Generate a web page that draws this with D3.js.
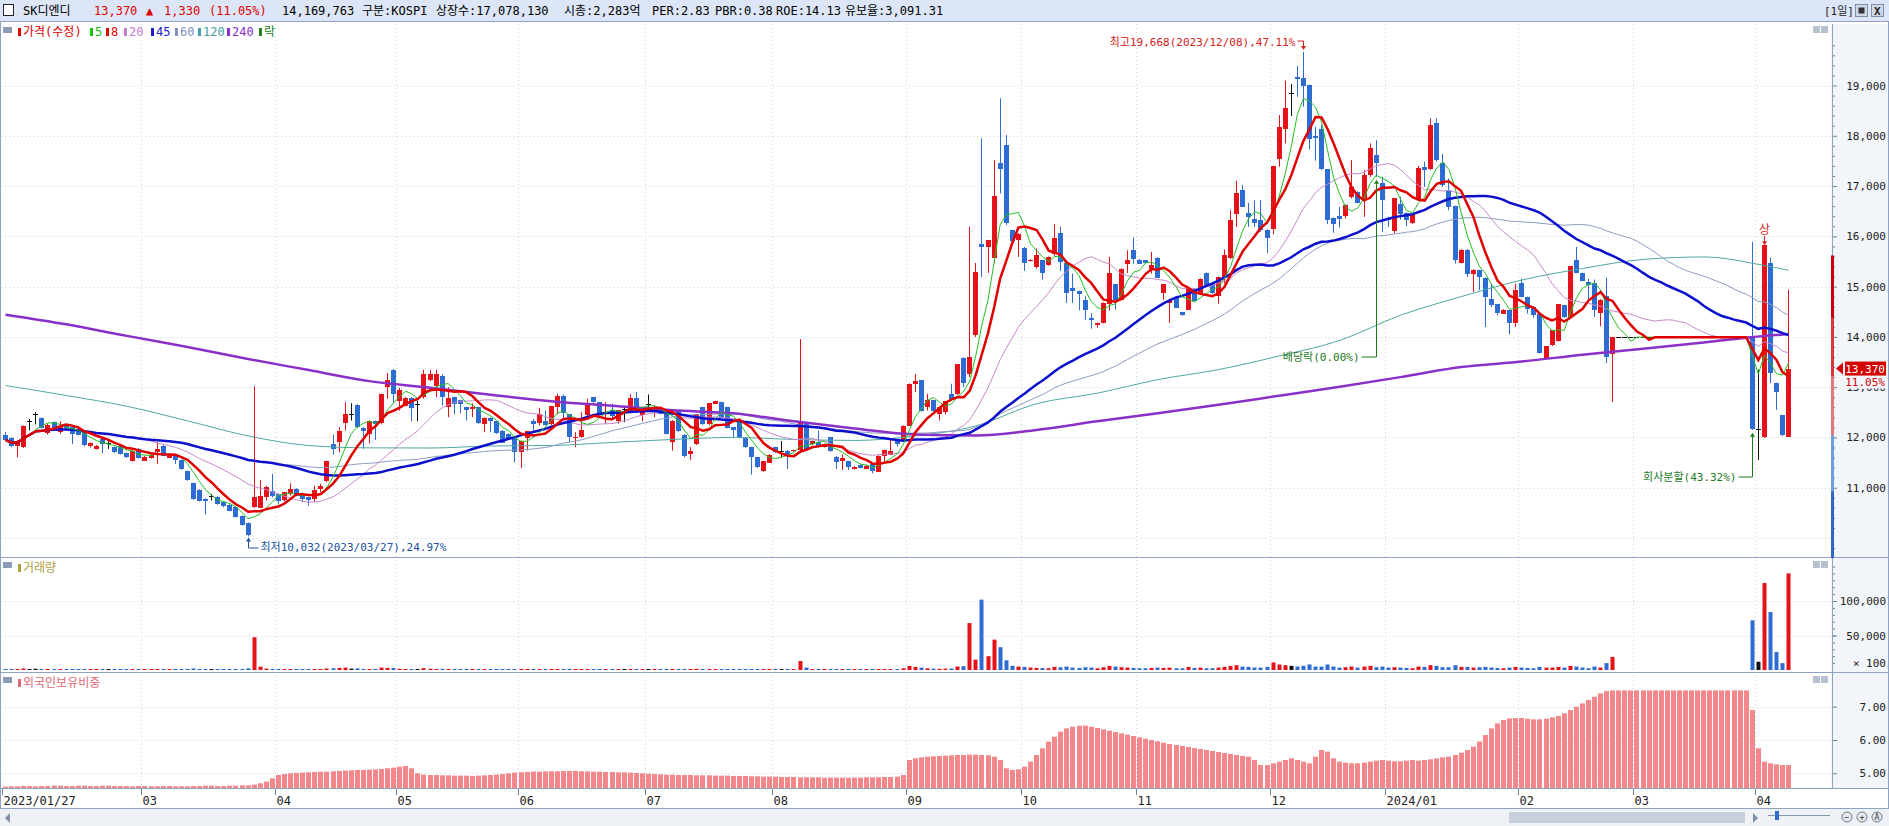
<!DOCTYPE html>
<html><head><meta charset="utf-8">
<script src="https://cdn.jsdelivr.net/npm/d3@7/dist/d3.min.js"></script>
<style>
html,body{margin:0;padding:0;background:#fff;overflow:hidden}
svg{display:block}
text{font-family:"DejaVu Sans Mono","Noto Sans CJK KR",monospace}
</style></head><body>
<svg id="chart" width="1889" height="826"></svg>
<script>
// ---------------- DATA ----------------
const openP=[12058,11992,11819,11806,12337,12470,12390,12072,12304,12105,
12218,12204,12151,12105,11819,11773,11972,11892,11806,11839,
11686,11540,11773,11540,11594,11706,11839,11607,11640,11554,
11328,11089,10956,10777,10843,10823,10710,10664,10624,10445,
10305,10611,10611,10823,10943,10876,10744,10876,10976,10876,
10810,10777,10976,11129,11872,11926,12271,12470,12649,12191,
12072,12324,12271,13001,13347,12722,12636,12789,12669,12802,
13134,13034,13214,12603,12802,12736,12603,12556,12603,12271,
12390,12324,12138,12072,11972,11706,11992,12324,12271,12337,
12258,12603,12822,12457,11992,12005,12430,12802,12702,12457,
12536,12324,12556,12536,12789,12437,12669,12570,12570,12470,
11926,12536,12058,11660,11859,12603,12258,12669,12702,12603,
12204,12337,11992,11806,11607,11328,11507,11806,11726,11740,
11726,11740,12284,11859,11906,11806,12005,11620,11527,11527,
11374,11461,11374,11474,11328,11640,11660,11939,11939,12238,
13054,13134,12603,12736,12457,12503,12855,12855,13586,13254,
14030,15856,15790,15558,17463,17815,16122,15936,15777,15511,
15378,15524,15425,15657,16069,15471,14980,14913,14741,14382,
14230,14276,14661,15046,14741,15458,15724,15538,15524,15338,
15578,14874,14675,14794,14495,14542,14960,14860,15272,15046,
14807,15192,15558,16454,16919,16467,16354,16321,16135,16135,
17550,18127,18844,19176,19143,19010,17994,18127,17330,16374,
16401,16401,16786,16886,16753,17218,17616,17052,16354,16089,
16653,16467,16255,16720,17370,17330,18247,17450,16919,16600,
15471,15737,15259,15325,15179,14761,14648,14462,14528,14276,
15073,14794,14595,14449,13566,13831,13918,14628,14382,15524,
15272,15093,15073,14475,14807,13652,13995,13995,13995,13995,
13995,13995,13995,13995,13995,13995,13995,13995,13995,13995,
13995,13995,13995,13995,13995,13995,13995,13995,13995,12170,
11992,15471,13081,12437,12018];
const highP=[12105,12000,11940,12240,12370,12503,12400,12271,12320,12324,
12240,12210,12160,12110,11900,11850,12005,11972,11820,11850,
11700,11750,11790,11630,11670,11906,11850,11670,11650,11560,
11340,11100,10970,10790,10876,10830,10720,10670,10630,10450,
10310,13014,11155,11040,11275,10890,10920,11089,10990,10910,
10820,11042,11076,11540,12058,12204,12702,12682,12660,12204,
12345,12337,12870,13280,13360,12988,12800,12800,12736,13347,
13347,13347,13254,13001,12810,12745,12610,12682,12610,12400,
12400,12330,12150,12080,11980,11940,12130,12370,12590,12536,
12630,12868,12855,12470,12105,12503,12769,12810,12710,12702,
12669,12545,12603,12855,12902,12610,12855,12636,12580,12480,
12345,12545,12065,11806,12470,12610,12690,12730,12710,12610,
12210,12345,12000,11815,11615,11535,11670,11815,11926,11750,
11760,13957,12290,11935,12138,11880,12010,11630,11660,11535,
11430,11470,11450,11480,11650,11760,11972,11945,12240,13075,
13267,13140,12868,12745,12610,12730,13068,13460,13595,16188,
15471,17948,15930,17516,18745,18014,16130,16065,15785,15545,
15757,15530,15600,16242,16188,15480,15259,14920,14807,14475,
14285,14685,15591,15055,15365,15724,15976,15545,15530,15690,
15585,15055,14750,14800,14500,14990,14970,15165,15280,15055,
15200,15737,16520,17105,17018,16666,16720,16720,16140,17405,
18413,19097,19030,19389,19668,19020,18180,18214,17340,16380,
16587,16630,17516,16895,17317,17848,17915,17184,16388,16760,
16786,16475,16450,17397,17483,18346,18346,17636,17151,16610,
15745,15745,15345,15335,15185,15060,14655,14550,14535,15060,
15159,14800,14600,14455,13820,14140,14655,14635,15412,15790,
15280,15159,15139,14750,15179,14000,13995,13995,13995,13995,
13995,13995,13995,13995,13995,13995,13995,13995,13995,13995,
13995,13995,13995,13995,13995,13995,13995,13995,15890,13346,
15823,15578,13090,12445,14940];
const lowP=[11926,11806,11607,11790,12138,12258,12180,12058,12180,12072,
12150,11872,12040,11820,11800,11760,11686,11773,11690,11660,
11590,11520,11580,11530,11580,11474,11630,11600,11474,11360,
11140,10760,10730,10465,10744,10660,10610,10530,10410,10250,
10032,10600,10598,10744,10810,10664,10730,10843,10830,10710,
10644,10710,10910,11110,11660,11706,12138,12337,12190,11773,
11886,11952,12260,12769,12682,12536,12620,12324,12324,12769,
13120,12802,12636,12404,12457,12483,12337,12404,12270,12105,
12105,12070,11890,11960,11507,11394,11740,12138,12238,12238,
12250,12457,12390,11906,11806,11992,12404,12690,12450,12271,
12370,12271,12304,12503,12483,12324,12590,12404,12460,12060,
11740,12110,11607,11554,11850,12245,12245,12660,12380,12180,
12005,11980,11790,11262,11395,11315,11495,11695,11607,11374,
11715,11730,11730,11850,11800,11800,11715,11374,11354,11354,
11365,11385,11365,11288,11315,11474,11650,11819,11930,12230,
12902,12515,12536,12515,12337,12457,12722,12845,13001,13200,
13997,15192,15272,15471,16852,16222,15900,15591,15312,15500,
15358,15139,15415,15591,15312,14675,14675,14528,14342,14163,
14183,14265,14528,14542,14730,15272,15458,15450,15460,15259,
15170,14741,14276,14575,14420,14535,14720,14850,15000,14850,
14661,15060,15550,16188,16580,16188,16188,16089,15670,16042,
17384,17848,18393,18778,18579,17729,17503,17317,16241,16069,
16175,16354,16753,16655,16388,17184,17184,16089,16188,16056,
16334,16202,16245,16710,16985,17317,17483,16985,16520,15458,
15460,15192,14894,14927,14196,14595,14429,14455,14050,14196,
14785,14462,14382,13670,13560,13820,13910,14375,14375,15265,
15105,14741,14396,14210,13479,12702,13995,13995,13995,13995,
13995,13995,13995,13995,13995,13995,13995,13995,13995,13995,
13995,13995,13995,13995,13995,13995,13995,13995,12151,11554,
11990,13081,12550,12030,12010];
const closeP=[11952,11839,11926,12218,12337,12470,12191,12238,12191,12218,
12178,12058,12058,11839,11886,11839,11872,11892,11706,11673,
11607,11740,11594,11620,11660,11773,11640,11660,11554,11374,
11155,10777,10744,10730,10843,10677,10624,10544,10425,10266,
10060,10810,10843,11022,10843,10730,10910,10976,10843,10777,
10757,10956,11042,11527,11773,12138,12457,12470,12204,12138,
12337,12258,12855,13147,12868,12935,12789,12590,12669,13267,
13254,13267,12789,12789,12656,12656,12536,12603,12284,12390,
12324,12085,11906,11972,11706,11926,12125,12271,12457,12258,
12616,12822,12483,11992,12018,12151,12656,12702,12457,12503,
12417,12536,12556,12789,12503,12603,12669,12603,12470,12072,
12337,12125,11640,11726,12457,12258,12682,12722,12390,12191,
12151,11992,11806,11607,11408,11527,11660,11706,11726,11640,
11753,12284,11740,11926,11806,11872,11726,11527,11593,11408,
11421,11395,11441,11341,11640,11753,11740,11886,12231,13068,
13121,12523,12736,12523,12603,12722,12749,13453,13081,13599,
15292,15790,15923,16799,17350,16268,15910,16056,15471,15538,
15624,15272,15591,15976,15491,14874,14913,14860,14542,14342,
14276,14675,15272,14728,15359,15538,15538,15458,15471,15425,
15179,15046,14741,14582,14429,14980,14728,15159,15006,14860,
15192,15624,16321,16866,16587,16388,16268,16122,15976,17397,
18180,18546,18844,19143,18991,17928,17948,17330,16308,16255,
16334,16620,16985,16666,17218,17749,17450,16706,16334,16753,
16454,16334,16441,17350,17317,18214,17503,17018,16587,15524,
15737,15259,15338,15179,14807,14648,14462,14542,14276,14927,
14794,14562,14429,13678,13811,14130,14648,14382,15405,15272,
15113,15026,14542,14741,13586,13995,13995,13995,13995,13995,
13995,13995,13995,13995,13995,13995,13995,13995,13995,13995,
13995,13995,13995,13995,13995,13995,13995,13995,12171,12170,
15820,13280,12902,12040,13370];
// volume (x100 shares)
const volume=[1200,900,1500,2200,1400,1800,1300,900,800,1000,
700,900,800,1200,900,700,1100,800,900,1000,
800,900,1000,700,600,1300,900,700,800,1100,
1600,2300,1500,1200,900,1000,1100,1200,1400,1600,
2500,47500,4900,2000,1500,1200,1300,1100,900,1000,
900,1300,1000,2200,2500,3000,3400,2000,2400,1500,
1500,1200,3500,3000,2800,1800,1300,1200,1000,2600,
1800,1500,1700,1200,1000,900,800,900,1300,900,
800,1000,1200,900,1400,1500,1300,1100,1200,900,
1300,1500,1200,1600,900,1000,1500,900,1000,800,
900,1000,700,1400,1300,1000,800,700,800,1300,
1400,1100,1500,1000,1800,1200,1500,900,1000,1300,
900,1200,1100,1400,1200,1000,900,800,700,900,
800,13000,3500,1200,1000,900,1100,900,800,900,
700,800,700,900,1000,900,1100,900,2500,6000,
4500,3500,2500,2000,1800,2000,2200,5000,5500,68000,
15000,102000,20000,44000,33000,14000,6000,5000,4500,3500,
3000,2800,2500,4500,4000,5000,3500,3000,4000,3500,
2500,4000,6000,5000,4000,3500,3000,2500,2500,3000,
3500,3000,3500,2500,2500,4500,3000,3500,2500,2500,
3500,4500,6000,7000,5000,4500,3500,3500,4500,11000,
8000,7000,6000,5000,6000,8000,5000,5000,8000,5000,
3500,4000,5000,3500,5000,6000,4000,5000,3500,4000,
3500,3000,2500,5000,4500,7000,6000,4000,4000,7000,
4500,4500,3500,4000,4500,3500,3000,2500,3500,4500,
3500,3000,2500,4500,3500,3500,4500,3500,6000,5000,
3500,2500,5000,3500,10000,19000,0,0,0,0,
0,0,0,0,0,0,0,0,0,0,
0,0,0,0,0,0,0,0,72000,12000,
126000,84000,26000,10000,140000];
// foreign ownership ratio (%)
const foreignPct=[4.60,4.61,4.61,4.62,4.62,4.61,4.62,4.62,4.63,4.63,
4.62,4.62,4.63,4.63,4.62,4.62,4.63,4.63,4.62,4.62,
4.62,4.61,4.62,4.62,4.61,4.61,4.62,4.62,4.61,4.61,
4.61,4.62,4.62,4.63,4.63,4.62,4.62,4.63,4.63,4.64,
4.64,4.66,4.70,4.75,4.85,4.95,4.98,5.00,5.01,5.02,
5.03,5.04,5.05,5.05,5.06,5.07,5.08,5.09,5.10,5.10,
5.11,5.12,5.13,5.15,5.17,5.20,5.22,5.15,5.00,4.96,
4.95,4.95,4.94,4.94,4.93,4.93,4.93,4.92,4.93,4.94,
4.95,4.96,4.98,5.00,5.02,5.03,5.04,5.05,5.05,5.06,
5.06,5.06,5.07,5.07,5.07,5.06,5.06,5.05,5.05,5.04,
5.04,5.03,5.03,5.02,5.01,5.00,4.99,4.98,4.97,4.96,
4.96,4.95,4.95,4.95,4.94,4.94,4.94,4.93,4.93,4.93,
4.92,4.92,4.92,4.91,4.91,4.90,4.90,4.90,4.89,4.89,
4.89,4.88,4.88,4.88,4.88,4.87,4.87,4.87,4.87,4.87,
4.87,4.87,4.88,4.88,4.88,4.89,4.89,4.90,4.95,5.40,
5.45,5.48,5.50,5.51,5.52,5.53,5.54,5.55,5.55,5.56,
5.56,5.55,5.54,5.50,5.40,5.15,5.10,5.12,5.20,5.35,
5.55,5.75,5.95,6.10,6.25,6.35,6.40,6.43,6.43,6.40,
6.36,6.32,6.28,6.24,6.20,6.16,6.12,6.08,6.04,6.00,
5.96,5.92,5.88,5.85,5.82,5.79,5.76,5.73,5.70,5.67,
5.64,5.61,5.58,5.55,5.52,5.50,5.40,5.25,5.25,5.30,
5.35,5.40,5.45,5.40,5.35,5.30,5.50,5.70,5.65,5.45,
5.35,5.32,5.30,5.30,5.32,5.35,5.38,5.40,5.38,5.36,
5.36,5.38,5.40,5.38,5.40,5.42,5.45,5.48,5.50,5.55,
5.62,5.70,5.80,5.95,6.15,6.35,6.50,6.60,6.65,6.66,
6.66,6.64,6.62,6.62,6.64,6.68,6.72,6.80,6.90,7.00,
7.10,7.20,7.30,7.40,7.47,7.49,7.49,7.49,7.49,7.49,
7.49,7.49,7.49,7.49,7.49,7.49,7.49,7.49,7.49,7.49,
7.49,7.49,7.49,7.49,7.49,7.49,7.49,7.49,6.90,5.75,
5.35,5.30,5.27,5.25,5.25];
// long moving averages at sample days
const maSampleIdx=[0,10,20,30,40,50,60,70,80,90,100,110,120,130,140,150,160,170,180,190,200,210,220,230,240,250,260,270,280,290,294];
const ma120Vals=[13034,12835,12620,12330,12030,11840,11793,11790,11830,11840,11900,11960,12000,11960,11940,12030,12230,12670,12880,13150,13350,13620,13930,14430,14800,15130,15360,15540,15590,15420,15325];
const ma240Vals=[14440,14250,14020,13800,13560,13340,13120,12990,12850,12720,12630,12540,12480,12320,12180,12060,12040,12150,12320,12480,12650,12830,13010,13200,13400,13510,13645,13765,13890,14020,14050];
// x-axis month ticks (index of first trading day shown, label)
const monthTickIdx=[0,23,45,65,85,106,127,149,168,187,209,228,250,269,289];
const monthTickLbl=['2023/01/27','03','04','05','06','07','08','09','10','11','12','2024/01','02','03','04'];
const priceTicks=[11000,12000,13000,14000,15000,16000,17000,18000,19000];
const volTicks=[50000,100000];
const forTicks=[5,6,7];
const headerItems=[['SK디엔디',23,'#000'],['13,370',94,'#e00000'],['▲',146,'#e00000'],['1,330',164,'#e00000'],['(11.05%)',209,'#e00000'],
 ['14,169,763',282,'#000'],['구분:KOSPI',362,'#000'],['상장수:17,078,130',436,'#000'],['시총:2,283억',564,'#000'],['PER:2.83',652,'#000'],
 ['PBR:0.38',715,'#000'],['ROE:14.13',776,'#000'],['유보율:3,091.31',845,'#000']];
const legendItems=[['가격(수정)','#e00000',18],['5','#10c010',90],['8','#e00000',106],['20','#c080c8',124],['45','#1a1ad0',151],['60','#8090c0',175],['120','#40a0a0',198],['240','#8a30c8',227],['락','#208020',259]];

// ---------------- LAYOUT ----------------
const W=1889,H=826,R=1831;
const mainT=24, mainB=557, volB=672, forB=788, axB=808;
const N=closeP.length;
const svg=d3.select('#chart');
const x=d3.scaleLinear().domain([0,300]).range([5,5+300*6.065]);
const y=d3.scaleLinear().domain([10000,19000]).range([538,85.5]);
const yv=d3.scaleLinear().domain([0,100000]).range([670,601]);
const yf=d3.scaleLinear().domain([5,7]).range([773.3,706.7]);
const RED='#e6121a', BLUE='#2d6cd3', BLK='#111';
const col=i=>closeP[i]>openP[i]?RED:(closeP[i]<openP[i]?BLUE:BLK);
const cx=i=>Math.round(x(i));

svg.append('rect').attr('width',W).attr('height',H).attr('fill','#fff');
const defs=svg.append('defs');
defs.append('clipPath').attr('id','clipMain').append('rect').attr('x',1).attr('y',mainT).attr('width',R-1).attr('height',mainB-mainT);
defs.append('clipPath').attr('id','clipVol').append('rect').attr('x',1).attr('y',mainB+1).attr('width',R-1).attr('height',volB-mainB-1);

// right axis background
svg.append('rect').attr('x',R).attr('y',mainT).attr('width',W-R).attr('height',forB-mainT).attr('fill','#f2f5f9');

// grid
const grid=svg.append('g').attr('stroke','#cfd6de').attr('stroke-dasharray','1,3').attr('stroke-width',1);
priceTicks.concat([10000]).forEach(p=>grid.append('line').attr('x1',1).attr('x2',R).attr('y1',Math.round(y(p))+0.5).attr('y2',Math.round(y(p))+0.5));
volTicks.forEach(v=>grid.append('line').attr('x1',1).attr('x2',R).attr('y1',Math.round(yv(v))+0.5).attr('y2',Math.round(yv(v))+0.5));
forTicks.forEach(v=>grid.append('line').attr('x1',1).attr('x2',R).attr('y1',Math.round(yf(v))+0.5).attr('y2',Math.round(yf(v))+0.5));
monthTickIdx.forEach(i=>{if(i>0)grid.append('line').attr('x1',cx(i)-2.5).attr('x2',cx(i)-2.5).attr('y1',mainT).attr('y2',forB);});

// ---- candles
const gc=svg.append('g').attr('clip-path','url(#clipMain)');
const idx=d3.range(N);
gc.selectAll('line.w').data(idx).join('line').attr('class','w')
 .attr('x1',i=>cx(i)+0.5).attr('x2',i=>cx(i)+0.5)
 .attr('y1',i=>y(highP[i])).attr('y2',i=>y(lowP[i])).attr('stroke',col).attr('stroke-width',1);
gc.selectAll('rect.b').data(idx).join('rect').attr('class','b')
 .attr('x',i=>cx(i)-2).attr('width',5)
 .attr('y',i=>Math.round(y(Math.max(openP[i],closeP[i]))))
 .attr('height',i=>Math.max(1,Math.round(Math.abs(y(openP[i])-y(closeP[i])))))
 .attr('fill',col);

// ---- moving averages
function sma(a,n){return a.map((_,i)=>{const s=Math.max(0,i-n+1);let t=0;for(let k=s;k<=i;k++)t+=a[k];return t/(i-s+1);});}
const lineG=svg.append('g').attr('clip-path','url(#clipMain)').attr('fill','none');
const lineIdx=d3.line().x((d,i)=>x(i)+0.5).y(d=>y(d));
const lineSamp=d3.line().curve(d3.curveMonotoneX).x(d=>x(d[0])+0.5).y(d=>y(d[1]));
lineG.append('path').attr('d',lineSamp(maSampleIdx.map((k,j)=>[k,ma120Vals[j]]))).attr('stroke','#4fa8a2').attr('stroke-width',1);
const mas={};
[5,8,20,45,60].forEach(n=>mas[n]=sma(closeP,n));
lineG.append('path').attr('d',lineIdx(mas[60])).attr('stroke','#8c9cc4').attr('stroke-width',1);
lineG.append('path').attr('d',lineIdx(mas[20])).attr('stroke','#c888cc').attr('stroke-width',1);
lineG.append('path').attr('d',lineSamp(maSampleIdx.map((k,j)=>[k,ma240Vals[j]]))).attr('stroke','#8a30c8').attr('stroke-width',2.5);
lineG.append('path').attr('d',lineIdx(mas[45])).attr('stroke','#0c10cc').attr('stroke-width',2.5);
lineG.append('path').attr('d',lineIdx(mas[5])).attr('stroke','#22c022').attr('stroke-width',1);
lineG.append('path').attr('d',lineIdx(mas[8])).attr('stroke','#e00000').attr('stroke-width',2.5);

// ---- volume
const gv=svg.append('g').attr('clip-path','url(#clipVol)');
gv.selectAll('rect').data(idx.filter(i=>volume[i]>0)).join('rect')
 .attr('x',i=>cx(i)-1.5).attr('width',4)
 .attr('y',i=>Math.min(669,yv(volume[i]))).attr('height',i=>Math.max(1,670-Math.min(669,yv(volume[i]))))
 .attr('fill',col);

// ---- foreign ownership
svg.append('g').selectAll('rect').data(idx).join('rect')
 .attr('x',i=>cx(i)-2).attr('width',5)
 .attr('y',i=>yf(foreignPct[i])).attr('height',i=>forB-yf(foreignPct[i]))
 .attr('fill','#f4878a');

// ---- frame lines
const fr=svg.append('g').attr('stroke','#8fa2c2').attr('stroke-width',1);
[mainB,volB,forB,axB].forEach(v=>fr.append('line').attr('x1',0).attr('x2',W).attr('y1',v+0.5).attr('y2',v+0.5));
fr.append('line').attr('x1',0.5).attr('x2',0.5).attr('y1',22).attr('y2',axB);
fr.append('line').attr('x1',R+1.5).attr('x2',R+1.5).attr('y1',mainT).attr('y2',forB);
fr.append('line').attr('x1',W-0.5).attr('x2',W-0.5).attr('y1',0).attr('y2',H);

// ---- right axes
const axFont='11px';
const ax=svg.append('g');
function styleTicks(g){g.select('.domain').remove();g.selectAll('line').attr('stroke','#6f7f99');
 g.selectAll('text').attr('x',53).attr('text-anchor','end').attr('fill','#222').style('font-size',axFont);}
const minorP=d3.range(9800,20001,200);
ax.append('g').attr('transform',`translate(${R+2},0)`).call(d3.axisRight(y).tickValues(minorP.filter(v=>v%1000!==0)).tickSize(2).tickFormat(''))
 .call(g=>{g.select('.domain').remove();g.selectAll('line').attr('stroke','#6f7f99');});
ax.append('g').attr('transform',`translate(${R+2},0)`).call(d3.axisRight(y).tickValues(priceTicks).tickSize(4).tickFormat(d3.format(','))).call(styleTicks);
ax.append('g').attr('transform',`translate(${R+2},0)`).call(d3.axisRight(yv).tickValues(d3.range(10000,150001,10000).filter(v=>yv(v)>mainB+3)).tickSize(2).tickFormat(''))
 .call(g=>{g.select('.domain').remove();g.selectAll('line').attr('stroke','#6f7f99');});
ax.append('g').attr('transform',`translate(${R+2},0)`).call(d3.axisRight(yv).tickValues(volTicks).tickSize(4).tickFormat(d3.format(','))).call(styleTicks);
ax.append('text').attr('x',R+55).attr('y',667).attr('text-anchor','end').attr('fill','#222').style('font-size','11px').text('× 100');
ax.append('g').attr('transform',`translate(${R+2},0)`).call(d3.axisRight(yf).tickValues(forTicks).tickSize(4).tickFormat(d3.format('.2f'))).call(styleTicks);

// range bar on axis
[[15620,14380,'#c8000a'],[14380,13210,'#d83838'],[13210,12040,'#e07a7a'],[12040,10930,'#6e9ee0'],[10930,9600,'#2f66c8']].forEach(s=>{
 svg.append('rect').attr('x',R).attr('width',3).attr('y',y(s[0])).attr('height',y(s[1])-y(s[0])).attr('fill',s[2]);});

// current price tag
const lastC=closeP[N-1];
const ty=y(lastC);
svg.append('path').attr('d',`M${R+5},${ty} L${R+12},${ty-6} L${R+12},${ty+6} Z`).attr('fill','#d40000');
svg.append('rect').attr('x',R+14).attr('y',ty-7).attr('width',41).attr('height',14).attr('fill','#d40000');
svg.append('text').attr('x',R+54).attr('y',ty+4).attr('text-anchor','end').attr('fill','#fff').style('font-size','11px').text(d3.format(',')(lastC));
svg.append('rect').attr('x',R+14).attr('y',ty+8).attr('width',41).attr('height',12).attr('fill','#f2f5f9');
svg.append('text').attr('x',R+54).attr('y',ty+17).attr('text-anchor','end').attr('fill','#d40000').style('font-size','11px').text('11.05%');

// ---- x axis
const xa=svg.append('g');
monthTickIdx.forEach((i,k)=>{
 const xx=cx(i)-2.5;
 xa.append('line').attr('x1',xx).attr('x2',xx).attr('y1',forB+1).attr('y2',forB+7).attr('stroke','#6f7f99');
 xa.append('text').attr('x',xx+1).attr('y',forB+17).attr('fill','#222').style('font-size','12px').text(monthTickLbl[k]);
});

// ---- header
svg.append('rect').attr('x',0).attr('y',0).attr('width',W).attr('height',21).attr('fill','#dce6f6');
svg.append('line').attr('x1',0).attr('x2',W).attr('y1',21.5).attr('y2',21.5).attr('stroke','#8fa2c2');
svg.append('rect').attr('x',3.5).attr('y',4.5).attr('width',10).attr('height',11).attr('fill','#fff').attr('stroke','#222');
headerItems.forEach(h=>svg.append('text').attr('x',h[1]).attr('y',15).attr('fill',h[2]).style('font-size','12px').text(h[0]));
svg.append('text').attr('x',1824).attr('y',15).attr('fill','#222').style('font-size','11px').text('[1일]');
svg.append('rect').attr('x',1855.5).attr('y',4.5).attr('width',12).attr('height',12).attr('fill','#cfd8e6').attr('stroke','#7f8da6');
svg.append('rect').attr('x',1858.5).attr('y',7.5).attr('width',6).attr('height',6).attr('fill','#333');
svg.append('rect').attr('x',1871.5).attr('y',4.5).attr('width',12).attr('height',12).attr('fill','#cfd8e6').attr('stroke','#7f8da6');
svg.append('text').attr('x',1874).attr('y',15).attr('fill','#222').style('font-size','11px').style('font-weight','bold').text('X');

// ---- legend & panel titles
function panelIcons(yy){
 svg.append('rect').attr('x',3).attr('y',yy).attr('width',9).attr('height',6).attr('fill','#8c9bb5');
 svg.append('rect').attr('x',1813).attr('y',yy-1).attr('width',7).attr('height',7).attr('fill','#b7c0cf');
 svg.append('rect').attr('x',1821).attr('y',yy-1).attr('width',7).attr('height',7).attr('fill','#b7c0cf');
}
panelIcons(27);panelIcons(562);panelIcons(677);
legendItems.forEach(l=>{
 svg.append('rect').attr('x',l[2]).attr('y',28).attr('width',3).attr('height',8).attr('fill',l[1]);
 svg.append('text').attr('x',l[2]+5).attr('y',36).attr('fill',l[1]).style('font-size','12px').text(l[0]);
});
svg.append('rect').attr('x',18).attr('y',564).attr('width',3).attr('height',8).attr('fill','#b0a040');
svg.append('text').attr('x',23).attr('y',572).attr('fill','#b0a040').style('font-size','12px').text('거래량');
svg.append('rect').attr('x',18).attr('y',679).attr('width',3).attr('height',8).attr('fill','#e06878');
svg.append('text').attr('x',23).attr('y',687).attr('fill','#e06878').style('font-size','12px').text('외국인보유비중');

// ---- annotations
const annFont='11px';
const hiI=d3.maxIndex(highP), loI=d3.minIndex(lowP);
const hx=cx(hiI)+0.5;
svg.append('text').attr('x',hx-8).attr('y',46).attr('text-anchor','end').attr('fill','#d42020').style('font-size',annFont)
 .text(`최고${d3.format(',')(highP[hiI])}(2023/12/08),47.11%`);
svg.append('path').attr('d',`M${hx-6},41 H${hx} V${y(highP[hiI])-5}`).attr('fill','none').attr('stroke','#d42020');
svg.append('path').attr('d',`M${hx-2.5},${y(highP[hiI])-6} L${hx+2.5},${y(highP[hiI])-6} L${hx},${y(highP[hiI])-2} Z`).attr('fill','#d42020');
const lx=cx(loI)+0.5;
svg.append('text').attr('x',lx+12).attr('y',551).attr('fill','#2050a0').style('font-size',annFont)
 .text(`최저${d3.format(',')(lowP[loI])}(2023/03/27),24.97%`);
svg.append('path').attr('d',`M${lx+10},548 H${lx} V${y(lowP[loI])+4}`).attr('fill','none').attr('stroke','#2050a0');
svg.append('path').attr('d',`M${lx-2.5},${y(lowP[loI])+5} L${lx+2.5},${y(lowP[loI])+5} L${lx},${y(lowP[loI])+1} Z`).attr('fill','#2050a0');
// ex-dividend
const dvx=cx(226)+0.5;
svg.append('text').attr('x',dvx-17).attr('y',361).attr('text-anchor','end').attr('fill','#1d7a1d').style('font-size',annFont).text('배당락(0.00%)');
svg.append('path').attr('d',`M${dvx-15},357 H${dvx} V${y(lowP[226])+6}`).attr('fill','none').attr('stroke','#1d7a1d');
svg.append('path').attr('d',`M${dvx-2.5},${y(lowP[226])+7} L${dvx+2.5},${y(lowP[226])+7} L${dvx},${y(lowP[226])+3} Z`).attr('fill','#1d7a1d');
// company split
const spx=cx(288)+0.5;
svg.append('text').attr('x',spx-16).attr('y',481).attr('text-anchor','end').attr('fill','#1d7a1d').style('font-size',annFont).text('회사분할(43.32%)');
svg.append('path').attr('d',`M${spx-14},477 H${spx} V${y(lowP[288])+6}`).attr('fill','none').attr('stroke','#1d7a1d');
svg.append('path').attr('d',`M${spx-2.5},${y(lowP[288])+7} L${spx+2.5},${y(lowP[288])+7} L${spx},${y(lowP[288])+3} Z`).attr('fill','#1d7a1d');
// upper limit mark
const ulx=cx(290)+0.5;
svg.append('text').attr('x',ulx).attr('y',234).attr('text-anchor','middle').attr('fill','#d42020').style('font-size','12px').text('상');
svg.append('path').attr('d',`M${ulx},236 V${y(highP[290])-3}`).attr('stroke','#d42020');
svg.append('path').attr('d',`M${ulx-2.5},${y(highP[290])-4} L${ulx+2.5},${y(highP[290])-4} L${ulx},${y(highP[290])} Z`).attr('fill','#d42020');

// ---- scrollbar
svg.append('rect').attr('x',0).attr('y',axB+1).attr('width',W).attr('height',H-axB-1).attr('fill','#eef1f6');
svg.append('path').attr('d','M5,818 L10,813 L10,823 Z').attr('fill','#7f8da6');
svg.append('rect').attr('x',1509).attr('y',812).attr('width',236).attr('height',11).attr('fill','#c9d0dc');
svg.append('path').attr('d','M1753,813 L1758,818 L1753,823 Z').attr('fill','#7f8da6');
svg.append('line').attr('x1',1768).attr('x2',1830).attr('y1',815.5).attr('y2',815.5).attr('stroke','#8a96aa');
svg.append('rect').attr('x',1775).attr('y',811).attr('width',4).attr('height',9).attr('fill','#2d6cd3');
['−','+','A'].forEach((s,k)=>{
 const zx=1847+k*15;
 svg.append('circle').attr('cx',zx).attr('cy',817).attr('r',5).attr('fill','#e6e9ee').attr('stroke','#6f7a8c');
 svg.append('text').attr('x',zx).attr('y',820).attr('text-anchor','middle').attr('fill','#333').style('font-size','8px').text(s);
});
</script></body></html>
